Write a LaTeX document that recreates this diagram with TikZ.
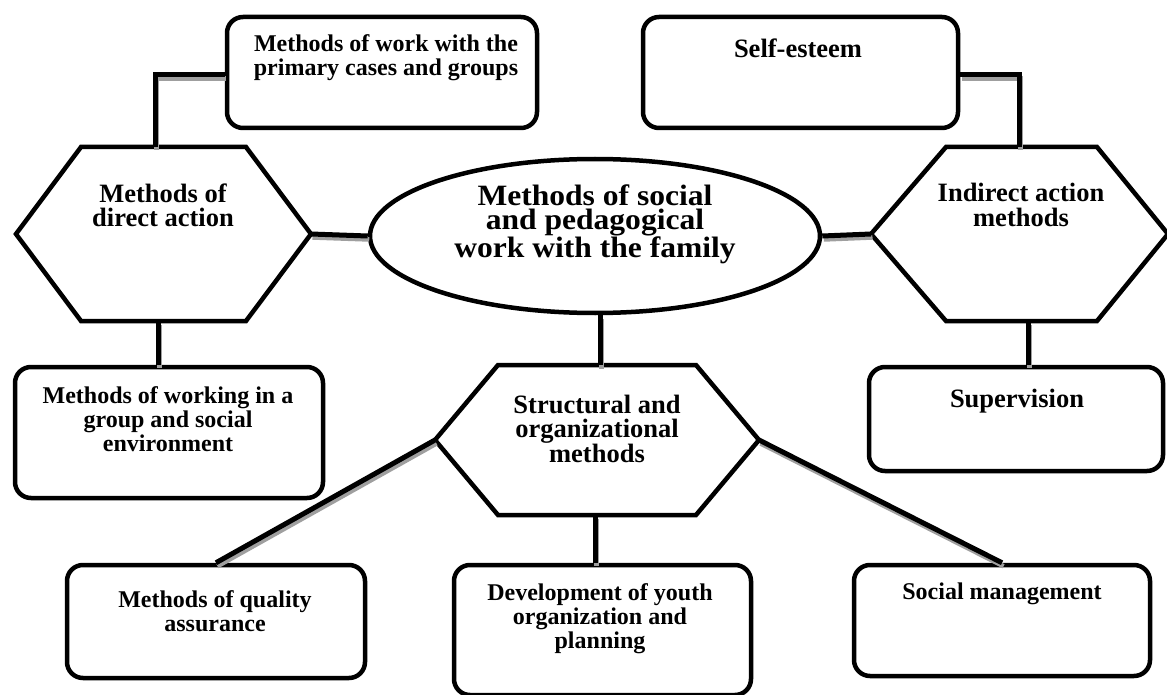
\documentclass[tikz,border=0pt]{standalone}
\usepackage{fontspec}
\setmainfont{Liberation Serif}
\newfontfamily\ellfont{Liberation Serif}[FakeStretch=1.07]
\usetikzlibrary{shapes.geometric}
\tikzset{
  shape line/.style={line width=4.5pt, line join=miter},
  rbox/.style={draw, shape line, rounded corners=16pt, inner sep=0pt, fill=white},
  hexshape/.style={draw, shape line, fill=white},
  conn/.style={line width=5pt, line join=miter,
    preaction={draw=gray!75, line width=4.5pt, transform canvas={shift={(1.5pt,-3.5pt)}}}},
  txt/.style={font=\bfseries\fontsize{24}{24}\selectfont, align=center, anchor=base, inner sep=0pt},
  txtb/.style={font=\bfseries\fontsize{26.5}{24.5}\selectfont, align=center, anchor=base, inner sep=0pt},
  txte/.style={font=\ellfont\bfseries\fontsize{29.5}{24.5}\selectfont, align=center, anchor=base, inner sep=0pt},
}
\begin{document}
\begin{tikzpicture}[x=1pt,y=-1pt]
\useasboundingbox (0,0) rectangle (1167,695);
% boxes
\node[rbox, minimum width=310pt, minimum height=111pt] (TL) at (382,72.5) {};
\node[rbox, minimum width=315pt, minimum height=111pt] (SE) at (800.5,72.5) {};
\node[rbox, minimum width=308pt, minimum height=131pt] (LM) at (169,432.5) {};
\node[rbox, minimum width=294pt, minimum height=104pt] (SUP) at (1016,419) {};
\node[rbox, minimum width=298pt, minimum height=113pt] (QA) at (216,621.5) {};
\node[rbox, minimum width=297pt, minimum height=130pt] (DEV) at (602.5,630) {};
\node[rbox, minimum width=296pt, minimum height=111pt] (SM) at (1002,620.5) {};
% ellipse
\node[draw, shape line, ellipse, fill=white, minimum width=450pt, minimum height=154pt, inner sep=0pt] (ELL) at (595,236) {};
% left hexagon
\coordinate (lhL) at (16,234); \coordinate (lhTL) at (81,147); \coordinate (lhTR) at (246,147);
\coordinate (lhR) at (311,234); \coordinate (lhBR) at (246,321); \coordinate (lhBL) at (81,321);
\draw[hexshape] (lhL) -- (lhTL) -- (lhTR) -- (lhR) -- (lhBR) -- (lhBL) -- cycle;
% right hexagon
\coordinate (rhL) at (871,234); \coordinate (rhTL) at (946,147); \coordinate (rhTR) at (1097,147);
\coordinate (rhR) at (1168,234); \coordinate (rhBR) at (1097,321); \coordinate (rhBL) at (946,321);
\draw[hexshape] (rhL) -- (rhTL) -- (rhTR) -- (rhR) -- (rhBR) -- (rhBL) -- cycle;
% centre hexagon
\coordinate (chL) at (435,440); \coordinate (chTL) at (498,365); \coordinate (chTR) at (696,365);
\coordinate (chR) at (759,440); \coordinate (chBR) at (696,515); \coordinate (chBL) at (498,515);
\draw[hexshape] (chL) -- (chTL) -- (chTR) -- (chR) -- (chBR) -- (chBL) -- cycle;
% connector points
\coordinate (lhT) at (155,147); \coordinate (bTL) at (155,75);
\coordinate (rhT) at (1019,147); \coordinate (bSE) at (1019,75);
\coordinate (lhB) at (158,321); \coordinate (rhB) at (1028,321);
\coordinate (chT) at (600,365); \coordinate (chB) at (595,515);
% texts (anchor = baseline of the last line)
\node[txt]  (tTL)  at (386,76)  {Methods of work with the\\primary cases and groups};
\node[txtb] (tSE)  at (798,58)  {Self-esteem};
\node[txtb] (tLH)  at (163,226.5) {Methods of\\direct action};
\node[txtb] (tRH)  at (1021,226) {Indirect action\\methods};
\node[txte] (tELL) at (595,258) {Methods of social\\and pedagogical\\work with the family};
\node[txt]  (tLM)  at (168,451) {Methods of working in a\\group and social\\environment};
\node[txtb] (tSUP) at (1017,407) {Supervision};
\node[txtb] (tCH)  at (597,462) {Structural and\\organizational\\methods};
\node[txt]  (tQA)  at (215,631) {Methods of quality\\assurance};
\node[txt]  (tDEV) at (600,648) {Development of youth\\organization and\\planning};
\node[txt]  (tSM)  at (1002,599) {Social management};
% connectors
\draw[conn] (TL.west |- bTL) -- (bTL) -- (lhT);
\draw[conn] (SE.east |- bSE) -- (bSE) -- (rhT);
\draw[conn] (lhR) -- (ELL.west);
\draw[conn] (ELL.east) -- (rhL);
\draw[conn] (ELL.south -| chT) -- (chT);
\draw[conn] (lhB) -- (LM.north -| lhB);
\draw[conn] (rhB) -- (SUP.north -| rhB);
\draw[conn] (chL) -- (QA.north);
\draw[conn] (chB) -- (DEV.north -| chB);
\draw[conn] (chR) -- (SM.north);
\end{tikzpicture}
\end{document}
